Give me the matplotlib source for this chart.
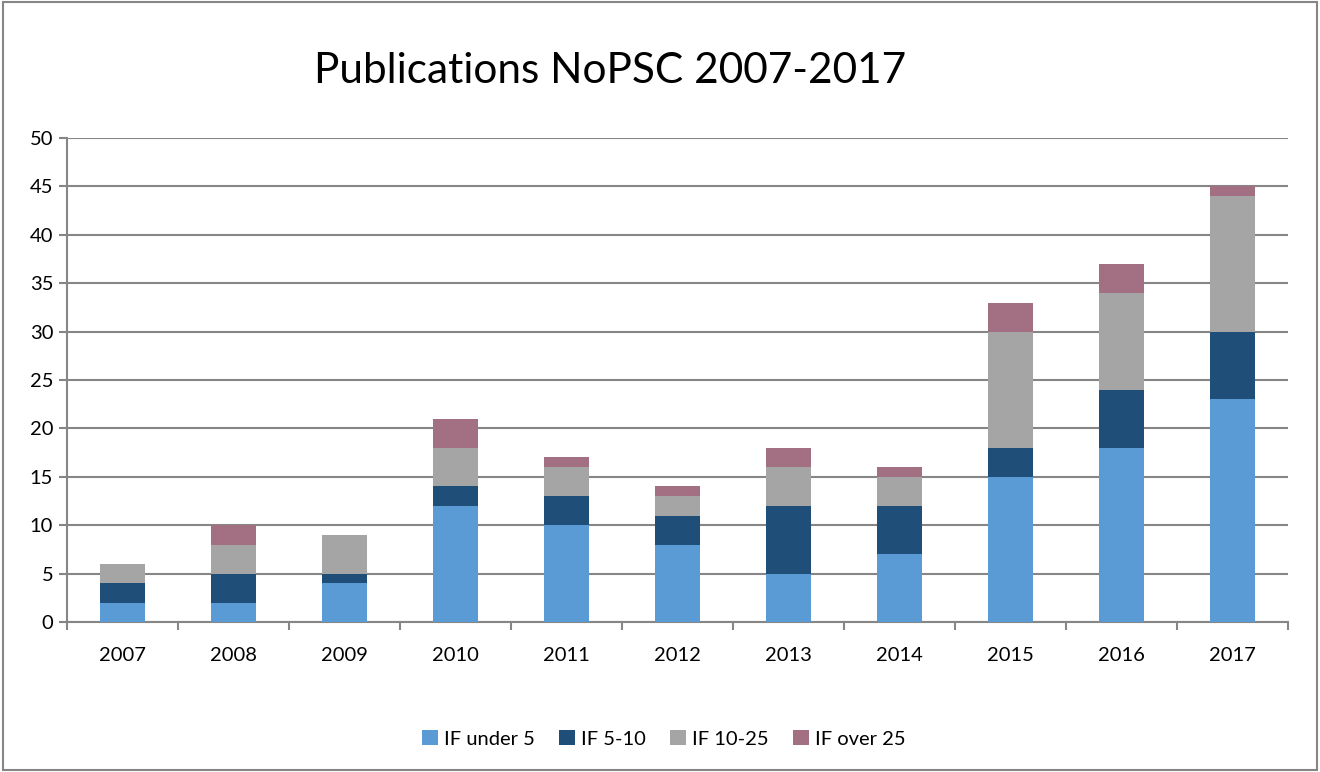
import matplotlib
matplotlib.use("Agg")
import matplotlib.pyplot as plt
import numpy as np
from matplotlib.patches import Rectangle

plt.rcParams['font.family'] = ['Lato', 'DejaVu Sans']

years = ['2007', '2008', '2009', '2010', '2011', '2012', '2013', '2014', '2015', '2016', '2017']
if_under5 = [2, 2, 4, 12, 10, 8, 5, 7, 15, 18, 23]
if_5_10 = [2, 3, 1, 2, 3, 3, 7, 5, 3, 6, 7]
if_10_25 = [2, 3, 4, 4, 3, 2, 4, 3, 12, 10, 14]
if_over25 = [0, 2, 0, 3, 1, 1, 2, 1, 3, 3, 1]
series_names = ['IF under 5', 'IF 5-10', 'IF 10-25', 'IF over 25']
colors = ['#5B9BD5', '#1F4E79', '#A5A5A5', '#A36F82']

fig = plt.figure(figsize=(13.2, 7.72), dpi=100)
ax = fig.add_axes([0.0508, 0.1943, 0.925, 0.627])

x = np.arange(len(years))
bottom = np.zeros(len(years))
for vals, name, c in zip([if_under5, if_5_10, if_10_25, if_over25], series_names, colors):
    ax.bar(x, vals, width=0.41, bottom=bottom, color=c, label=name, zorder=3)
    bottom += np.array(vals)

ax.set_xlim(-0.5, len(years) - 0.5)
ax.set_ylim(0, 50)
ax.set_yticks(range(0, 51, 5))
ax.set_xticks(x)
ax.set_xticklabels(years)
ax.set_xticks(np.arange(-0.5, len(years), 1), minor=True)
ax.tick_params(axis='x', which='major', length=0, pad=18, labelsize=14.5)
ax.tick_params(axis='x', which='minor', length=6, color='#868686', width=1.5)
ax.tick_params(axis='y', length=6, color='#868686', width=1.5, labelsize=14.5, pad=4)
ax.grid(axis='y', color='#868686', linewidth=1.5, zorder=0)
for s in ['top', 'right']:
    ax.spines[s].set_visible(False)
for s in ['left', 'bottom']:
    ax.spines[s].set_color('#868686')
    ax.spines[s].set_linewidth(1.5)

fig.text(0.462, 0.908, 'Publications NoPSC 2007-2017', ha='center', va='center', fontsize=30.5)

fig.legend(loc='center', bbox_to_anchor=(0.503, 0.043), ncol=4, frameon=False,
           fontsize=14.5, handlelength=0.8, handleheight=0.8, handletextpad=0.3, columnspacing=1.2)

fig.patches.append(Rectangle((0.002, 0.002), 0.996, 0.996, transform=fig.transFigure,
                             fill=False, edgecolor='#868686', linewidth=1.5))

fig.savefig('out.png', dpi=100)
